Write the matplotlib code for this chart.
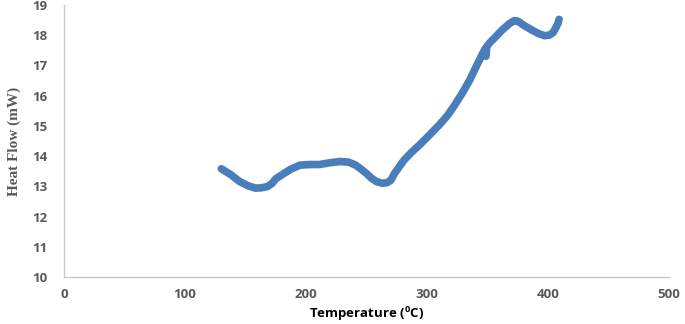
import matplotlib.pyplot as plt

# DSC curve
temp = [130, 138, 145, 152, 158, 163, 168, 172, 175, 180, 187, 195, 203, 211, 220, 228,
        235, 241, 246, 250, 254, 258, 263, 267, 270, 273, 277, 281, 287, 294, 302, 310,
        317, 323, 329, 335, 341, 346, 348, 348.6, 349.2, 352, 356, 362, 368, 372, 375,
        380, 386, 392, 397, 401, 404, 406, 408, 409]
heat = [13.58, 13.38, 13.16, 13.02, 12.94, 12.95, 12.99, 13.1, 13.25, 13.38, 13.56, 13.7, 13.72,
        13.72, 13.78, 13.82, 13.8, 13.7, 13.55, 13.42, 13.27, 13.16, 13.1, 13.12, 13.2, 13.42,
        13.65, 13.87, 14.12, 14.38, 14.7, 15.03, 15.35, 15.7, 16.08, 16.5, 17.0, 17.4, 17.55,
        17.3, 17.62, 17.76, 17.92, 18.17, 18.38, 18.48, 18.46, 18.32, 18.18, 18.05, 17.98, 18.0,
        18.08, 18.22, 18.38, 18.52]

fig = plt.figure(figsize=(6.85, 3.24), dpi=100)
ax = fig.add_axes([0.0934, 0.145, 0.8836, 0.84])

ax.plot(temp, heat, color="#4a7ebb", linewidth=5.5, solid_capstyle="round", solid_joinstyle="round")

ax.set_xlim(0, 500)
ax.set_ylim(10, 19)
ax.set_xticks(range(0, 501, 100))
ax.set_yticks(range(10, 20))

for s in ["top", "right"]:
    ax.spines[s].set_visible(False)
for s in ["left", "bottom"]:
    ax.spines[s].set_color("#c8c8c8")
    ax.spines[s].set_linewidth(1)

ax.tick_params(length=0, colors="#595959", labelsize=9.5)
ax.tick_params(axis="y", pad=12)
ax.tick_params(axis="x", pad=8)
for lab in ax.get_xticklabels() + ax.get_yticklabels():
    lab.set_fontweight("bold")
    lab.set_family("Open Sans")

ax.set_xlabel("Temperature ($\\mathregular{^0}$C)", fontsize=9.5, fontweight="bold",
              family="Open Sans", color="black", labelpad=3)
ax.set_ylabel("Heat Flow (mW)", fontsize=11, fontweight="bold", family="Liberation Serif",
              color="#595959", labelpad=8)

fig.savefig("out.png", dpi=100)
